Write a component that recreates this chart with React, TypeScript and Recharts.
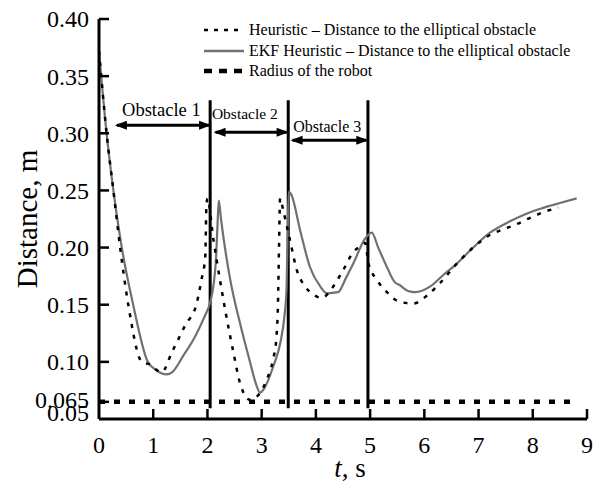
import React from "react";
import {
  LineChart,
  Line,
  XAxis,
  YAxis,
  Legend,
  ReferenceLine,
  ReferenceDot,
} from "recharts";

// heuristic planner, distance to the elliptical obstacle
const heurT = [0, 0.14, 0.26, 0.39, 0.54, 0.79, 0.97, 1.06, 1.16, 1.34, 1.59, 1.8, 1.89, 1.96, 1.98, 2.0, 2.11, 2.23, 2.36, 2.48, 2.6, 2.7, 2.79, 2.9, 2.97, 3.09, 3.21, 3.27, 3.3, 3.32, 3.34, 3.4, 3.52, 3.65, 3.8, 3.95, 4.11, 4.32, 4.5, 4.69, 4.85, 4.91, 4.97, 5.12, 5.31, 5.52, 5.79, 6.05, 6.29, 6.6, 6.9, 7.21, 7.4, 7.68, 7.95, 8.2, 8.47];
const heurV = [0.372, 0.3, 0.252, 0.2, 0.15, 0.1, 0.097, 0.093, 0.091, 0.108, 0.132, 0.151, 0.172, 0.192, 0.235, 0.243, 0.207, 0.172, 0.137, 0.108, 0.0815, 0.07, 0.0666, 0.069, 0.073, 0.084, 0.102, 0.12, 0.15, 0.2, 0.243, 0.232, 0.207, 0.18, 0.166, 0.159, 0.156, 0.166, 0.18, 0.196, 0.202, 0.204, 0.186, 0.172, 0.161, 0.153, 0.151, 0.158, 0.169, 0.186, 0.2, 0.211, 0.215, 0.22, 0.226, 0.231, 0.235];

// EKF heuristic
const ekfT = [0, 0.14, 0.26, 0.42, 0.63, 0.9, 1.05, 1.15, 1.25, 1.35, 1.55, 1.77, 1.95, 2.05, 2.12, 2.16, 2.19, 2.21, 2.25, 2.42, 2.6, 2.79, 2.9, 2.97, 3.05, 3.21, 3.35, 3.42, 3.46, 3.48, 3.5, 3.55, 3.71, 3.89, 4.08, 4.2, 4.41, 4.55, 4.69, 4.91, 5.03, 5.15, 5.31, 5.45, 5.55, 5.7, 5.83, 6.11, 6.35, 6.6, 6.9, 7.21, 7.58, 7.85, 8.14, 8.5, 8.81];
const ekfV = [0.372, 0.3, 0.252, 0.2, 0.15, 0.1, 0.093, 0.09, 0.089, 0.091, 0.105, 0.122, 0.14, 0.152, 0.17, 0.192, 0.225, 0.241, 0.225, 0.172, 0.134, 0.099, 0.08, 0.073, 0.077, 0.0955, 0.118, 0.14, 0.165, 0.215, 0.249, 0.246, 0.215, 0.183, 0.166, 0.16, 0.161, 0.173, 0.186, 0.208, 0.213, 0.2, 0.183, 0.17, 0.167, 0.162, 0.161, 0.166, 0.176, 0.186, 0.2, 0.213, 0.223, 0.229, 0.234, 0.239, 0.243];

const robotRadius = 0.065;
const radiusSpan = [0, 8.85];

const obstacleNames = ["Obstacle 1", "Obstacle 2", "Obstacle 3"];
const obstacleEdges = [2.05, 3.49, 4.96];
const edgeSpan = [0.0595, 0.329];
const arrowFrom = [0.33, 2.15, 3.57];
const arrowTo = [2.03, 3.46, 4.93];
const arrowLevel = [0.307, 0.301, 0.294];
const labelT = [1.15, 2.69, 4.21];
const labelLevel = [0.3205, 0.317, 0.306];
const labelSize = [18.5, 15.5, 16];

const xTicks = [0, 1, 2, 3, 4, 5, 6, 7, 8, 9];
const yTicks = [0.05, 0.065, 0.1, 0.15, 0.2, 0.25, 0.3, 0.35, 0.4];

const legendItems = [
  { label: "Heuristic \u2013 Distance to the elliptical obstacle", color: "#000", width: 2.5, dash: "4 6" },
  { label: "EKF Heuristic \u2013 Distance to the elliptical obstacle", color: "#707070", width: 2.5, dash: "" },
  { label: "Radius of the robot", color: "#000", width: 4.5, dash: "8 7" },
];

const heurData = heurT.map((t, i) => ({ t, v: heurV[i] }));
const ekfData = ekfT.map((t, i) => ({ t, v: ekfV[i] }));
const radiusData = radiusSpan.map((t) => ({ t, v: robotRadius }));

const FONT = '"Liberation Serif", "Times New Roman", serif';
const X_MARGIN = 17;
const Y_MARGIN = 10;

function XTick(props: any) {
  const { x, y, payload } = props;
  const axisY = y - X_MARGIN;
  return (
    <g>
      {payload.value !== 0 && (
        <line x1={x} x2={x} y1={axisY} y2={axisY - 10} stroke="#000" strokeWidth={2.5} />
      )}
      <text x={x} y={y} dy="0.71em" textAnchor="middle" fontSize={24} fill="#000" fontFamily={FONT}>
        {payload.value}
      </text>
    </g>
  );
}

function YTick(props: any) {
  const { x, y, payload } = props;
  const axisX = x + Y_MARGIN;
  const v = payload.value;
  const shift = v === 0.05 ? -6 : v === 0.065 ? -2 : 0;
  return (
    <g>
      {v !== 0.05 && (
        <line x1={axisX} x2={axisX + 10} y1={y} y2={y} stroke="#000" strokeWidth={2.5} />
      )}
      <text x={x} y={y + shift} dy="0.35em" textAnchor="end" fontSize={24} fill="#000" fontFamily={FONT}>
        {v === 0.065 ? "0.065" : v.toFixed(2)}
      </text>
    </g>
  );
}

function YLabel(props: any) {
  const vb = props.viewBox;
  const cx = vb.x + 8;
  const cy = vb.y + vb.height / 2;
  return (
    <text x={cx} y={cy} transform={`rotate(-90 ${cx} ${cy})`} textAnchor="middle" dy="0.35em" fontSize={29} fill="#000" fontFamily={FONT}>
      Distance, m
    </text>
  );
}

function XLabel(props: any) {
  const vb = props.viewBox;
  const cx = vb.x + vb.width / 2 + 7;
  const cy = vb.y + 58;
  return (
    <text x={cx} y={cy} textAnchor="middle" fontSize={27} fill="#000" fontFamily={FONT}>
      <tspan fontStyle="italic">t</tspan>, s
    </text>
  );
}

function arrowHead(props: any) {
  const { cx, cy, index } = props;
  const dir = index === 0 ? -1 : 1;
  const pts = `${cx + dir * 2},${cy} ${cx - dir * 10},${cy - 4.5} ${cx - dir * 10},${cy + 4.5}`;
  return <polygon key={`ah-${index}`} points={pts} fill="#000" />;
}

function LegendBox() {
  return (
    <div style={{ fontFamily: FONT, fontSize: 16, color: "#000" }}>
      {legendItems.map((it) => (
        <div key={it.label} style={{ display: "flex", alignItems: "center", height: 20.5 }}>
          <svg width={42} height={10} style={{ marginRight: 4 }}>
            <line x1={1} x2={41} y1={5} y2={5} stroke={it.color} strokeWidth={it.width} strokeDasharray={it.dash || undefined} />
          </svg>
          <span style={{ whiteSpace: "nowrap" }}>{it.label}</span>
        </div>
      ))}
    </div>
  );
}

export default function App() {
  return (
    <div style={{ position: "absolute", left: 0, top: 0, background: "#fff" }}>
      <LineChart
        width={603}
        height={484}
        margin={{ top: 19, right: 16, bottom: 0, left: 19 }}
        style={{ fontFamily: FONT }}
      >
        <XAxis
          dataKey="t"
          type="number"
          domain={[0, 9]}
          ticks={xTicks}
          interval={0}
          height={65}
          tickSize={0}
          tickMargin={X_MARGIN}
          tickLine={false}
          tick={<XTick />}
          axisLine={{ stroke: "#000", strokeWidth: 3 }}
          allowDataOverflow
          label={{ content: XLabel }}
        />
        <YAxis
          dataKey="v"
          type="number"
          domain={[0.05, 0.4]}
          ticks={yTicks}
          interval={0}
          width={80}
          tickSize={0}
          tickMargin={Y_MARGIN}
          tickLine={false}
          tick={<YTick />}
          axisLine={{ stroke: "#000", strokeWidth: 3 }}
          allowDataOverflow
          label={{ content: YLabel }}
        />
        <Legend
          layout="vertical"
          align="center"
          verticalAlign="middle"
          wrapperStyle={{ top: 20, left: 203, width: 400 }}
          content={<LegendBox />}
        />
        {obstacleEdges.map((b) => (
          <ReferenceLine
            key={`edge-${b}`}
            segment={[
              { x: b, y: edgeSpan[0] },
              { x: b, y: edgeSpan[1] },
            ]}
            stroke="#000"
            strokeWidth={3}
          />
        ))}
        <Line
          data={radiusData}
          dataKey="v"
          stroke="#000"
          strokeWidth={4.5}
          strokeDasharray="6 9"
          dot={false}
          activeDot={false}
          isAnimationActive={false}
        />
        <Line
          data={ekfData}
          dataKey="v"
          type="monotone"
          stroke="#707070"
          strokeWidth={2.2}
          dot={false}
          activeDot={false}
          isAnimationActive={false}
        />
        <Line
          data={heurData}
          dataKey="v"
          type="monotone"
          stroke="#000"
          strokeWidth={2.5}
          strokeDasharray="4 7"
          dot={false}
          activeDot={false}
          isAnimationActive={false}
        />
        {obstacleNames.map((name, i) => (
          <Line
            key={`arrow-${name}`}
            data={[
              { t: arrowFrom[i], v: arrowLevel[i] },
              { t: arrowTo[i], v: arrowLevel[i] },
            ]}
            dataKey="v"
            stroke="#000"
            strokeWidth={3}
            dot={arrowHead}
            activeDot={false}
            isAnimationActive={false}
          />
        ))}
        {obstacleNames.map((name, i) => (
          <ReferenceDot
            key={`lbl-${name}`}
            x={labelT[i]}
            y={labelLevel[i]}
            r={0}
            stroke="none"
            fill="none"
            label={{ value: name, position: "center", fontSize: labelSize[i], fill: "#000", fontFamily: FONT }}
          />
        ))}
      </LineChart>
    </div>
  );
}
